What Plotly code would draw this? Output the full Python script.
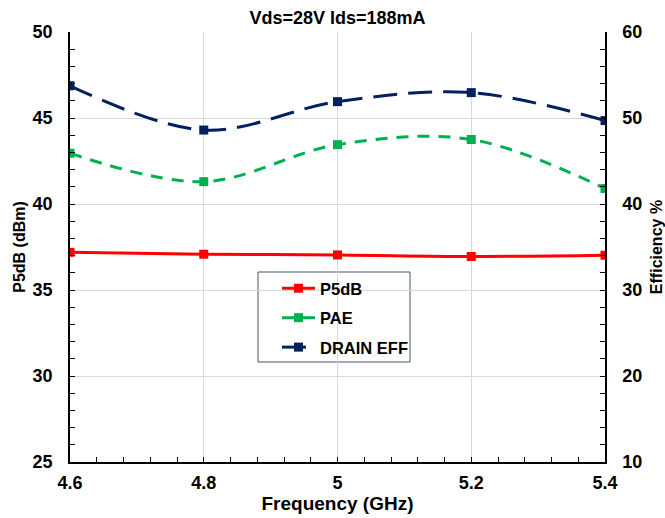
import plotly.graph_objects as go

freq = [4.6, 4.8, 5.0, 5.2, 5.4]
p5db = [37.19, 37.08, 37.04, 36.95, 37.02]
pae = [45.9, 42.6, 46.9, 47.5, 41.8]
drain_eff = [53.75, 48.6, 51.9, 52.95, 49.7]

FONT = "Liberation Sans, Arial, sans-serif"

fig = go.Figure()
fig.add_trace(go.Scatter(x=freq, y=p5db, name="P5dB", mode="lines+markers", legendgroup="a",
                         line=dict(color="#ff0000", width=3, shape="spline"),
                         marker=dict(symbol="square", size=9, color="#ff0000")))
fig.add_trace(go.Scatter(x=freq, y=pae, name="PAE", mode="lines+markers", yaxis="y2", legendgroup="b",
                         line=dict(color="#00b050", width=3, dash="12px,9px", shape="spline"),
                         marker=dict(symbol="square", size=9, color="#00b050")))
fig.add_trace(go.Scatter(x=freq, y=drain_eff, name="DRAIN EFF", mode="lines+markers", yaxis="y2", legendgroup="c",
                         line=dict(color="#002060", width=3, dash="24px,11px", shape="spline"),
                         marker=dict(symbol="square", size=9, color="#002060")))

tickfont = dict(family=FONT, size=18, color="black", weight="bold")
ytitlefont = dict(family=FONT, size=16, color="black", weight="bold")
xtitlefont = dict(family=FONT, size=19, color="black", weight="bold")

L, R, T, B = 70, 605, 32, 462

def px(x):
    return (x - L) / (R - L)

def py(y):
    return (B - y) / (B - T)

fig.update_layout(
    width=665, height=518,
    margin=dict(l=L, r=665 - R, t=T, b=518 - B, autoexpand=False),
    paper_bgcolor="white", plot_bgcolor="white",
    title=dict(text="Vds=28V Ids=188mA", xref="paper", x=0.5, xanchor="center",
               yref="container", y=1 - 17.5 / 518, yanchor="middle",
               font=dict(family=FONT, size=18, color="black", weight="bold")),
    showlegend=True,
    legend=dict(x=px(277), y=py(271), xanchor="left", yanchor="top",
                borderwidth=0, bgcolor="rgba(0,0,0,0)",
                font=dict(family=FONT, size=16.5, color="black", weight="bold"),
                itemwidth=33, tracegroupgap=5),
    shapes=[dict(type="rect", xref="paper", yref="paper",
                 x0=px(258), x1=px(410), y0=py(272), y1=py(362),
                 line=dict(color="#44546a", width=1), fillcolor="white", layer="below")],
    xaxis=dict(range=[4.6, 5.4], tickvals=[4.6, 4.8, 5.0, 5.2, 5.4],
               ticktext=["4.6", "4.8", "5", "5.2", "5.4"], automargin=False,
               showgrid=True, gridcolor="#d9d9d9", gridwidth=1,
               showline=True, linecolor="black", linewidth=1.5,
               ticks="inside", ticklen=5, tickcolor="black",
               minor=dict(dtick=0.04, ticks="inside", ticklen=5, tickcolor="black", showgrid=False),
               tickfont=tickfont, zeroline=False, ticklabelstandoff=4,
               title=dict(text="Frequency (GHz)", font=xtitlefont, standoff=2)),
    yaxis=dict(range=[25, 50], dtick=5, automargin=False,
               showgrid=True, gridcolor="#d9d9d9", gridwidth=1,
               showline=True, linecolor="black", linewidth=1.5,
               ticks="inside", ticklen=5, tickcolor="black",
               minor=dict(dtick=1, ticks="inside", ticklen=5, tickcolor="black", showgrid=False),
               tickfont=tickfont, zeroline=False, ticklabelstandoff=12,
               title=dict(text="P5dB (dBm)", font=ytitlefont, standoff=3)),
    yaxis2=dict(range=[10, 60], dtick=10, overlaying="y", side="right", automargin=False,
                showgrid=False,
                showline=True, linecolor="black", linewidth=1.5,
                ticks="inside", ticklen=5, tickcolor="black",
                minor=dict(dtick=2, ticks="inside", ticklen=5, tickcolor="black"),
                tickfont=tickfont, zeroline=False, ticklabelstandoff=12,
                title=dict(text="Efficiency %", font=ytitlefont, standoff=18)),
)

fig.write_html("out.html")
